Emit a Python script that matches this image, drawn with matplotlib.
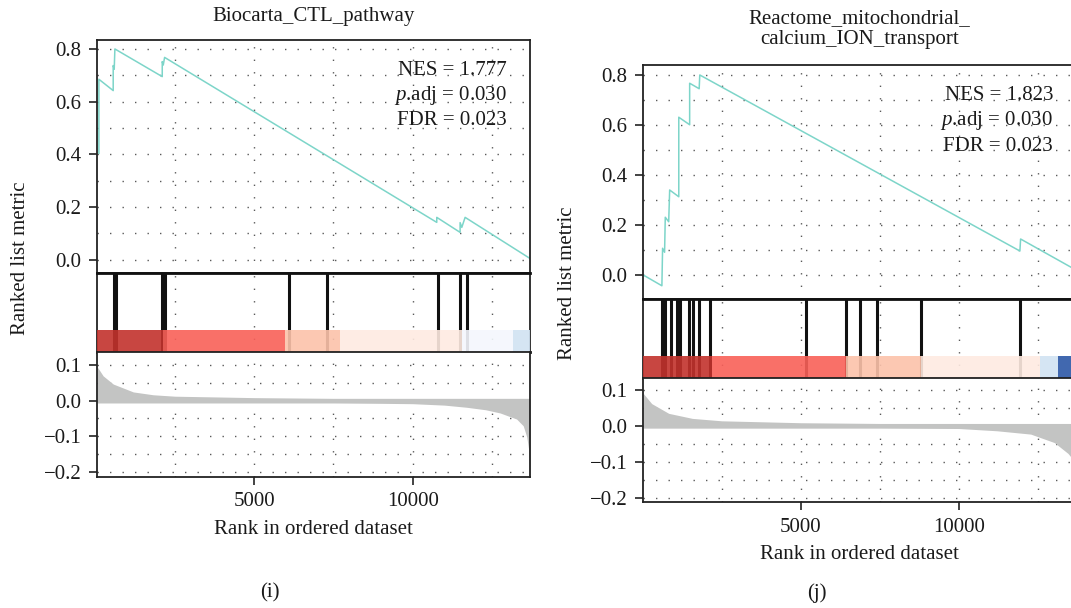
import numpy as np
import matplotlib
matplotlib.use("Agg")
import matplotlib.pyplot as plt
from matplotlib.ticker import MultipleLocator, FixedLocator

plt.rcParams['font.family'] = ['Liberation Serif', 'DejaVu Serif']
plt.rcParams['mathtext.fontset'] = 'custom'
plt.rcParams['mathtext.rm'] = 'Liberation Serif'
plt.rcParams['mathtext.it'] = 'Liberation Serif:italic'
FS = 15

# ---- data ----
n_genes = 13703

# (i) Biocarta_CTL_pathway
score_i_rank = [95, 95, 547, 547, 579, 600, 2095, 2095, 2127, 2169,
                10760, 10760, 11497, 11497, 11550, 11655, 13703]
score_i_es = [0.404, 0.685, 0.642, 0.737, 0.723, 0.800, 0.695, 0.752, 0.739, 0.768,
              0.142, 0.161, 0.104, 0.141, 0.123, 0.161, 0.005]
hits_i = [580, 650, 2085, 2170, 6107, 7307, 10790, 11480, 11700]
bar_i_edges = [45, 2127, 5970, 7707, 11560, 13160, 13703]
bar_i_colors = ['#C2322C', '#F96058', '#FCC2AA', '#FEEAE1', '#F4F7FD', '#D1E3F2']
metric_i_rank = [45, 230, 550, 1180, 1810, 2500, 5000, 7500, 9000, 10000, 11000,
                 11700, 12300, 12760, 13280, 13490, 13600, 13660, 13703]
metric_i_val = [0.088, 0.063, 0.040, 0.018, 0.010, 0.006, 0.002, 0.0, -0.001, -0.002,
                -0.006, -0.012, -0.019, -0.028, -0.045, -0.064, -0.095, -0.13, -0.20]

# (j) Reactome_mitochondrial_calcium_ION_transport
score_j_rank = [19, 607, 629, 692, 714, 822, 853, 1141, 1141, 1485, 1485, 1786, 1805,
                11929, 11951, 13703]
score_j_es = [0.0, -0.043, 0.107, 0.091, 0.231, 0.213, 0.340, 0.313, 0.631, 0.601,
              0.767, 0.745, 0.800, 0.096, 0.144, 0.020]
hits_j = [600, 700, 880, 1090, 1190, 1480, 1590, 1790, 2120, 5167, 6440, 6879, 7413,
          8804, 11929]
bar_j_edges = [19, 2180, 6415, 8794, 12555, 13124, 13703]
bar_j_colors = ['#C2322C', '#F96058', '#FCC2AA', '#FEEAE1', '#D1E3F2', '#2C58A6']
metric_j_rank = [19, 284, 822, 1571, 2500, 5000, 7500, 10000, 11202, 12271, 13020,
                 13450, 13535, 13600, 13660, 13703]
metric_j_val = [0.083, 0.055, 0.028, 0.014, 0.0073, 0.002, 0.0, -0.001, -0.0073,
                -0.0165, -0.040, -0.070, -0.079, -0.10, -0.13, -0.20]

panels = [
    dict(title='Biocarta_CTL_pathway', nes='1.777', padj='0.030', fdr='0.023',
         score_x=score_i_rank, score_y=score_i_es, hits=hits_i,
         edges=bar_i_edges, colors=bar_i_colors,
         mx=metric_i_rank, my=metric_i_val, xmin=45,
         x0=97.3, x1=530.0, top=40.0, mid=272.7, bot=351.7, end=476.7,
         ylim_top=(-0.049, 0.834), ylim_bot=(-0.2132, 0.1373),
         title_y=16.7, ylab_x=20.5, cap='(i)', cap_x=270),
    dict(title='Reactome_mitochondrial_\ncalcium_ION_transport', nes='1.823',
         padj='0.030', fdr='0.023',
         score_x=score_j_rank, score_y=score_j_es, hits=hits_j,
         edges=bar_j_edges, colors=bar_j_colors,
         mx=metric_j_rank, my=metric_j_val, xmin=19,
         x0=643.3, x1=1076.0, top=65.3, mid=298.7, bot=377.7, end=502.0,
         ylim_top=(-0.0947, 0.8387), ylim_bot=(-0.211, 0.1332),
         title_y=29.0, ylab_x=567.5, cap='(j)', cap_x=817),
]

W, H = 1071, 608
fig = plt.figure(figsize=(W / 100, H / 100), dpi=100)

text_c = '#1a1a1a'
grid_kw = dict(color='#5a5a5a', linestyle=(0, (1, 8)), linewidth=1.0)


def frac(x0, x1, y_top, y_bot):
    return [x0 / W, 1 - y_bot / H, (x1 - x0) / W, (y_bot - y_top) / H]


def style(ax):
    for s in ax.spines.values():
        s.set_color('#222222')
        s.set_linewidth(1.3)
    ax.set_axisbelow(True)
    ax.tick_params(axis='both', which='major', length=5.8, width=1.2, color='#222222',
                   labelcolor=text_c, labelsize=FS, pad=5.5)
    ax.tick_params(axis='both', which='minor', length=0)


for p in panels:
    ax1 = fig.add_axes(frac(p['x0'], p['x1'], p['top'], p['mid']))
    ax2 = fig.add_axes(frac(p['x0'], p['x1'], p['mid'], p['bot']))
    ax3 = fig.add_axes(frac(p['x0'], p['x1'], p['bot'], p['end']))

    for ax in (ax1, ax2, ax3):
        style(ax)
        ax.set_xlim(p['xmin'], n_genes)
        ax.xaxis.set_major_locator(FixedLocator([5000, 10000]))
        ax.xaxis.set_minor_locator(FixedLocator([2500, 7500, 12500]))
        ax.grid(True, which='both', axis='x', **grid_kw)

    # running enrichment score
    ax1.plot(p['score_x'], p['score_y'], color='#7DD5C9', linewidth=1.1)
    ax1.set_ylim(*p['ylim_top'])
    ax1.yaxis.set_major_locator(MultipleLocator(0.2))
    ax1.yaxis.set_minor_locator(MultipleLocator(0.1))
    ax1.grid(True, which='both', axis='y', **grid_kw)
    ax1.tick_params(axis='x', which='both', bottom=False, labelbottom=False)
    fig.text((p['x0'] + p['x1']) / 2 / W, 1 - p['title_y'] / H, p['title'],
             ha='center', va='center', fontsize=FS, color=text_c, linespacing=1.2)

    stats = ['NES = ' + p['nes'], r'$\mathit{p}$.adj = ' + p['padj'], 'FDR = ' + p['fdr']]
    for k, s in enumerate(stats):
        ax1.text(0.947, 0.871 - k * 0.109, s, transform=ax1.transAxes, ha='right',
                 va='center', fontsize=FS, color=text_c)

    # gene hits + colour bar
    ax2.vlines(p['hits'], 0, 1, color='#111111', linewidth=2.2)
    starts = np.array(p['edges'][:-1])
    widths = np.diff(p['edges'])
    ax2.bar(starts, 0.27, width=widths, bottom=0, align='edge', color=p['colors'],
            alpha=0.9, linewidth=0, zorder=3)
    ax2.set_ylim(0, 1)
    ax2.set_yticks([])
    ax2.tick_params(axis='x', which='both', bottom=False, labelbottom=False)
    for side in ('top', 'bottom'):
        ax2.spines[side].set_linewidth(2.0)
        ax2.spines[side].set_color('#111111')

    # ranked list metric
    m = np.array(p['my'])
    ax3.fill_between(p['mx'], np.minimum(m, 0) - 0.0065, np.maximum(m, 0) + 0.0065,
                     color='#C3C4C3', linewidth=0)
    ax3.set_ylim(*p['ylim_bot'])
    ax3.yaxis.set_major_locator(FixedLocator([-0.2, -0.1, 0.0, 0.1]))
    ax3.yaxis.set_minor_locator(FixedLocator([-0.15, -0.05, 0.05]))
    ax3.grid(True, which='both', axis='y', **grid_kw)
    ax3.set_xticklabels(['5000', '10000'])
    ax3.set_xlabel('Rank in ordered dataset', fontsize=FS, color=text_c, labelpad=6)

    fig.text(p['ylab_x'] / W, 1 - ((p['top'] + p['end']) / 2) / H, 'Ranked list metric',
             rotation=90, ha='center', va='center', fontsize=FS, color=text_c)
    fig.text(p['cap_x'] / W, 1 - 593.3 / H, p['cap'], ha='center', va='center',
             fontsize=FS, color=text_c)

fig.savefig('out.png', dpi=100)
